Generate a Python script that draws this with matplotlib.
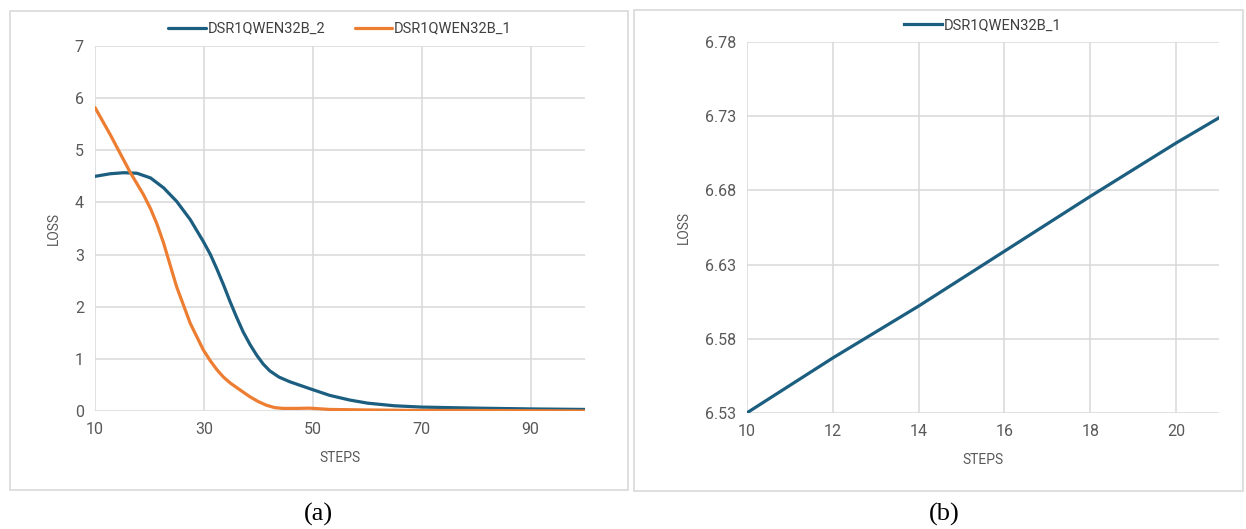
import numpy as np
import matplotlib
matplotlib.use("Agg")
import matplotlib.pyplot as plt
from matplotlib.patches import Rectangle

# panel (a) data
steps_b2 = [10, 12.8, 15.3, 17.7, 20.2, 22.6, 25, 27.5, 29.9, 31.2, 32.4, 33.6, 34.8,
            36, 37.2, 38.5, 39.7, 40.9, 42.1, 43.8, 45.8, 49.4, 53.1, 56.8, 60.1, 65,
            70, 80, 90, 100]
loss_b2 = [4.50, 4.55, 4.57, 4.56, 4.47, 4.28, 4.02, 3.67, 3.25, 3.0, 2.72, 2.42,
           2.10, 1.80, 1.52, 1.27, 1.07, 0.90, 0.77, 0.65, 0.56, 0.43, 0.30, 0.21,
           0.15, 0.10, 0.075, 0.055, 0.04, 0.03]
steps_b1 = [10, 12.8, 16.5, 18.9, 20.2, 21.4, 22.6, 25, 27.5, 29.9, 31.2, 32.4, 33.6,
            34.8, 36.7, 38.5, 40, 41.5, 43, 44.5, 47, 49.4, 53.1, 60, 70, 80, 100]
loss_b1 = [5.82, 5.30, 4.57, 4.15, 3.88, 3.58, 3.22, 2.38, 1.68, 1.17, 0.96, 0.79,
           0.65, 0.54, 0.40, 0.27, 0.18, 0.11, 0.065, 0.05, 0.05, 0.055, 0.03, 0.02,
           0.01, 0.01, 0.0]

# panel (b) data
steps_single = [10, 12, 14, 16, 18, 20, 21]
loss_single = [6.53, 6.567, 6.602, 6.639, 6.676, 6.712, 6.729]

blue = "#1b5e80"
orange = "#ed7d31"
grid_c = "#d9d9d9"
txt_c = "#595959"

plt.rcParams["font.family"] = ["Roboto", "DejaVu Sans"]

fig = plt.figure(figsize=(12.46, 5.29), dpi=100)

# light frames around each panel
fig.patches.append(Rectangle((9.6 / 1246, 1 - 490 / 529), 618 / 1246, 479 / 529,
                             transform=fig.transFigure, fill=False, edgecolor=grid_c, lw=1.2))
fig.patches.append(Rectangle((634 / 1246, 1 - 491 / 529), 609 / 1246, 481 / 529,
                             transform=fig.transFigure, fill=False, edgecolor=grid_c, lw=1.2))


def style(ax):
    for s in ax.spines.values():
        s.set_visible(False)
    ax.grid(True, color=grid_c, lw=1.1)
    ax.set_axisbelow(True)
    ax.tick_params(length=0, colors=txt_c, labelsize=11.5, pad=8)
    ax.set_xlabel("STEPS", color=txt_c, fontsize=10, labelpad=10)
    ax.set_ylabel("LOSS", color=txt_c, fontsize=10, labelpad=10)


ax1 = fig.add_axes([95 / 1246, 1 - 411 / 529, 490 / 1246, 365 / 529])
ax1.plot(steps_b2, loss_b2, color=blue, lw=2.3, label="DSR1QWEN32B_2",
         solid_capstyle="round", solid_joinstyle="round")
ax1.plot(steps_b1, loss_b1, color=orange, lw=2.3, label="DSR1QWEN32B_1",
         solid_capstyle="round", solid_joinstyle="round")
ax1.set_xlim(10, 100)
ax1.set_ylim(0, 7)
ax1.set_xticks([10, 30, 50, 70, 90])
ax1.set_yticks(range(0, 8))
style(ax1)
ax1.legend(loc="lower center", bbox_to_anchor=(0.5, 1.0), ncol=2, frameon=False,
           fontsize=10.5, handlelength=2.6, handletextpad=0.1, columnspacing=2.0,
           labelcolor="#404040", borderaxespad=0.3)

ax2 = fig.add_axes([747 / 1246, 1 - 412.8 / 529, 472 / 1246, 370.6 / 529])
ax2.plot(steps_single, loss_single, color=blue, lw=2.3, label="DSR1QWEN32B_1")
ax2.set_xlim(10, 21)
ax2.set_ylim(6.53, 6.78)
ax2.set_xticks([10, 12, 14, 16, 18, 20])
ax2.set_yticks([6.53, 6.58, 6.63, 6.68, 6.73, 6.78])
ax2.set_yticklabels(["6.53", "6.58", "6.63", "6.68", "6.73", "6.78"])
style(ax2)
ax2.legend(loc="lower center", bbox_to_anchor=(0.5, 1.0), ncol=1, frameon=False,
           fontsize=10.5, handlelength=2.6, handletextpad=0.1,
           labelcolor="#404040", borderaxespad=0.3)

fig.text(318 / 1246, 0.028, "(a)", ha="center", va="center", fontsize=19,
         family=["Liberation Serif", "DejaVu Serif"])
fig.text(944 / 1246, 0.028, "(b)", ha="center", va="center", fontsize=19,
         family=["Liberation Serif", "DejaVu Serif"])

fig.savefig("out.png", dpi=100)
